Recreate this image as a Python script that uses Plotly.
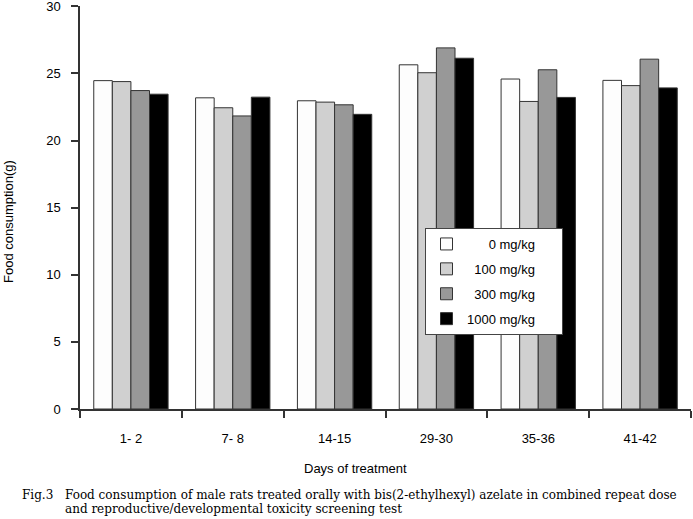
import plotly.graph_objects as go

categories = ["1- 2", "7- 8", "14-15", "29-30", "35-36", "41-42"]
series_names = ["0 mg/kg", "100 mg/kg", "300 mg/kg", "1000 mg/kg"]
dose_0 = [24.46, 23.18, 22.96, 25.64, 24.58, 24.48]
dose_100 = [24.39, 22.44, 22.86, 25.05, 22.91, 24.09]
dose_300 = [23.72, 21.83, 22.66, 26.90, 25.27, 26.06]
dose_1000 = [23.45, 23.23, 21.95, 26.13, 23.21, 23.92]
y_ticks = [0, 5, 10, 15, 20, 25, 30]
x_title = "Days of treatment"
y_title = "Food consumption(g)"
caption_label = "Fig.3"
caption_lines = [
    "Food consumption of male rats treated orally with bis(2-ethylhexyl) azelate in combined repeat dose",
    "and reproductive/developmental toxicity screening test",
]

series_values = [dose_0, dose_100, dose_300, dose_1000]
colors = ["#fdfdfd", "#d0d0d0", "#989898", "#000000"]
FS = "\u2007"

def pad(name):
    return FS * (len("1000 mg/kg") - len(name)) + name + FS * 3

W, H = 693, 519
ML, MR, MT, MB = 80, 2, 6, 110
PW, PH = W - ML - MR, H - MT - MB

def px(x):
    return (x - ML) / PW

def py(y):
    return (H - MB - y) / PH

fig = go.Figure()
for i, (name, vals) in enumerate(zip(series_names, series_values)):
    fig.add_trace(go.Bar(
        x=categories, y=vals, name=pad(name), legendgroup=f"g{i}",
        marker=dict(color=colors[i], line=dict(color="#333333", width=1)),
    ))

font_sans = "Liberation Sans, Arial, sans-serif"
font_serif = "DejaVu Serif, serif"
ann = [
    dict(text=x_title, x=px(355), y=py(468)),
    dict(text=y_title, x=px(9), y=py(222), textangle=-90),
    dict(text=caption_label, x=px(20), y=py(495), xanchor="left",
         font=dict(family=font_serif, size=12)),
    dict(text=caption_lines[0], x=px(63), y=py(495), xanchor="left",
         font=dict(family=font_serif, size=12)),
    dict(text=caption_lines[1], x=px(63), y=py(509), xanchor="left",
         font=dict(family=font_serif, size=12)),
]
for a in ann:
    a.setdefault("xanchor", "center")
    a.setdefault("yanchor", "middle")
    a.update(xref="paper", yref="paper", showarrow=False)
    a.setdefault("font", dict(family=font_sans, size=13))

fig.update_layout(
    width=W, height=H,
    margin=dict(l=ML, r=MR, t=MT, b=MB, autoexpand=False),
    paper_bgcolor="white", plot_bgcolor="white",
    barmode="group", bargap=0.27, bargroupgap=0,
    font=dict(family=font_sans, size=13, color="#000000"),
    showlegend=True,
    legend=dict(
        x=px(425), y=py(228), xanchor="left", yanchor="top",
        bgcolor="white", bordercolor="#444444", borderwidth=1,
        font=dict(family=font_sans, size=13, color="#000000"),
        tracegroupgap=5, itemclick=False, itemwidth=31,
    ),
    xaxis=dict(
        type="category", tickson="boundaries", ticks="outside", ticklen=7,
        tickcolor="#333333", tickwidth=1.5, showline=True, linecolor="#333333",
        linewidth=1.5, showgrid=False, zeroline=False, automargin=False,
        ticklabelstandoff=17, tickfont=dict(size=13),
    ),
    yaxis=dict(
        range=[0, 30.02], tickvals=y_ticks, ticks="outside", ticklen=7,
        tickcolor="#333333", tickwidth=1.5, showline=True, linecolor="#333333",
        linewidth=1.5, showgrid=False, zeroline=False, automargin=False,
        ticklabelstandoff=8, tickfont=dict(size=13), ticklabeloverflow="allow",
    ),
    annotations=ann,
)

fig.write_html("out.html", config={"displayModeBar": False},
               post_script="document.body.style.margin='0';")
